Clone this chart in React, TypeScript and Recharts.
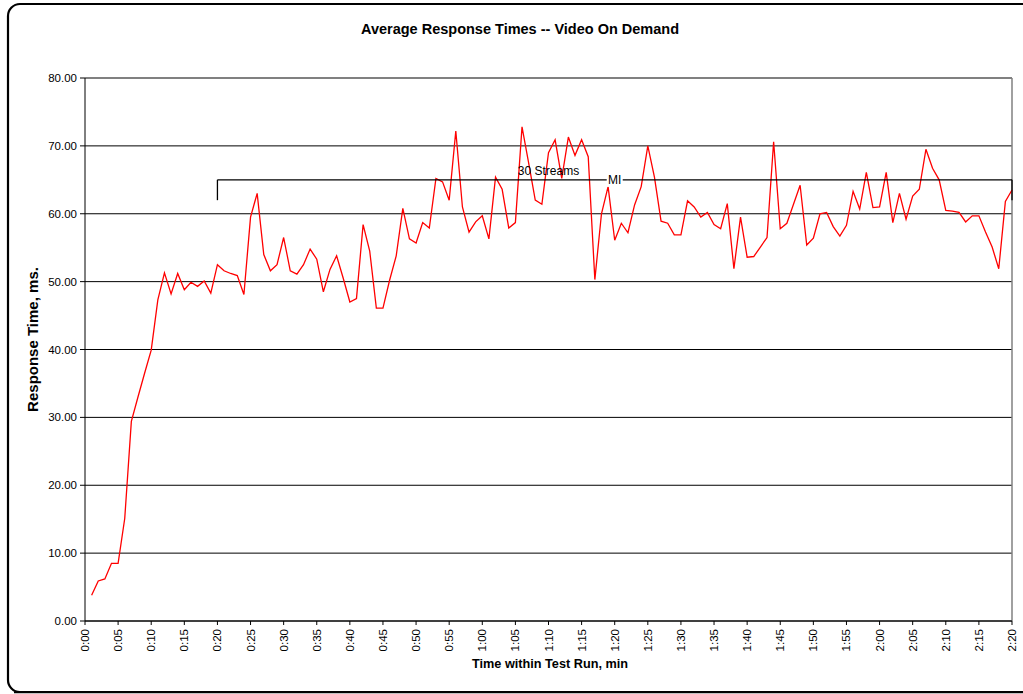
import { CartesianGrid, Line, LineChart, ReferenceDot, ReferenceLine, XAxis, YAxis } from 'recharts';

// response time per minute of the test run (minutes 1..140)
const responseTimes = [
  3.8, 5.9, 6.2, 8.5, 8.5, 15.1, 29.4, 33.0, 36.5, 39.9,
  47.3, 51.3, 48.2, 51.2, 48.8, 49.9, 49.3, 50.1, 48.3, 52.5,
  51.6, 51.2, 50.9, 48.1, 59.5, 63.0, 54.0, 51.6, 52.5, 56.5,
  51.6, 51.1, 52.5, 54.8, 53.3, 48.5, 51.8, 53.8, 50.5, 47.0,
  47.5, 58.4, 54.5, 46.1, 46.1, 50.2, 53.8, 60.8, 56.3, 55.7,
  58.7, 57.9, 65.2, 64.7, 62.0, 72.2, 61.0, 57.3, 58.8, 59.7,
  56.3, 65.4, 63.6, 57.9, 58.7, 72.8, 67.5, 62.0, 61.4, 69.0,
  70.9, 65.2, 71.3, 68.6, 70.9, 68.4, 50.3, 60.0, 64.0, 56.1,
  58.6, 57.2, 61.3, 64.0, 70.0, 65.4, 58.9, 58.6, 56.9, 56.9,
  61.9, 61.0, 59.5, 60.2, 58.4, 57.8, 61.5, 51.9, 59.5, 53.6,
  53.7, 55.1, 56.5, 70.6, 57.8, 58.6, 61.4, 64.2, 55.4, 56.4,
  60.0, 60.2, 58.1, 56.7, 58.3, 63.3, 60.7, 66.1, 60.9, 61.0,
  66.1, 58.7, 63.0, 59.2, 62.6, 63.6, 69.5, 66.7, 65.0, 60.5,
  60.4, 60.2, 58.8, 59.7, 59.7, 57.3, 55.1, 51.9, 61.8, 63.5,
];

const xTicks = [0, 5, 10, 15, 20, 25, 30, 35, 40, 45, 50, 55, 60, 65, 70, 75, 80, 85, 90, 95, 100, 105, 110, 115, 120, 125, 130, 135, 140];
const xTickLabels = [
  '0:00', '0:05', '0:10', '0:15', '0:20', '0:25', '0:30', '0:35', '0:40', '0:45',
  '0:50', '0:55', '1:00', '1:05', '1:10', '1:15', '1:20', '1:25', '1:30', '1:35',
  '1:40', '1:45', '1:50', '1:55', '2:00', '2:05', '2:10', '2:15', '2:20',
];
const yTicks = [0, 10, 20, 30, 40, 50, 60, 70, 80];

// "30 Streams" bracket annotation
const bracketStart = 20;
const bracketEnd = 140;
const bracketTop = 65;
const bracketFoot = 62;
const streamsLabelAt = 70;
const miLabelAt = 80;

const data = responseTimes.map((v, i) => ({ minute: i + 1, rt: v }));

const FONT = '"Liberation Sans", Arial, sans-serif';

const XTick = (props: any) => {
  const { x, y, index } = props;
  return (
    <text
      x={x}
      y={y}
      transform={`rotate(-90 ${x} ${y})`}
      textAnchor="end"
      dominantBaseline="central"
      fontSize={11.5}
      fontFamily={FONT}
      fill="#000"
    >
      {xTickLabels[index]}
    </text>
  );
};

const StreamsLabel = (props: any) => (
  <text x={props.cx} y={props.cy - 5} textAnchor="middle" fontSize={12} fontFamily={FONT} fill="#000">
    30 Streams
  </text>
);

const MiLabel = (props: any) => (
  <g>
    <rect x={props.cx - 8} y={props.cy - 7} width={16} height={14} fill="#fff" />
    <text x={props.cx} y={props.cy} textAnchor="middle" dominantBaseline="central" fontSize={12} fontFamily={FONT} fill="#000">
      MI
    </text>
  </g>
);

export default function App() {
  return (
    <div style={{ position: 'absolute', left: 0, top: 0, width: 1023, height: 694, overflow: 'hidden', background: '#fff', fontFamily: FONT }}>
      <div style={{ position: 'absolute', left: 0, width: 1040, top: 21, textAlign: 'center', fontSize: 14.5, fontWeight: 'bold' }}>
        Average Response Times -- Video On Demand
      </div>
      <div style={{ position: 'absolute', left: 0, width: 1100, top: 657, textAlign: 'center', fontSize: 12.7, fontWeight: 'bold' }}>
        Time within Test Run, min
      </div>
      <div style={{ position: 'absolute', left: 32, top: 340, width: 0, height: 0 }}>
        <div style={{ position: 'absolute', left: -100, top: -9, width: 200, textAlign: 'center', fontSize: 15, fontWeight: 'bold', transform: 'rotate(-90deg)', whiteSpace: 'nowrap' }}>
          Response Time, ms.
        </div>
      </div>
      <div style={{ position: 'absolute', left: 0, top: 0 }}>
        <LineChart width={1023} height={694} data={data} margin={{ top: 78, right: 11, left: 0, bottom: 0 }}>
          <CartesianGrid vertical={false} stroke="#000" strokeOpacity={1} />
          <XAxis
            dataKey="minute"
            type="number"
            domain={[0, 140]}
            ticks={xTicks}
            interval={0}
            height={73}
            tickSize={4}
            tickMargin={4}
            tick={<XTick />}
            axisLine={{ stroke: '#000' }}
            tickLine={{ stroke: '#000' }}
          />
          <YAxis
            type="number"
            domain={[0, 80]}
            ticks={yTicks}
            interval={0}
            width={85}
            tickSize={5}
            tickMargin={3}
            tickFormatter={(v: number) => v.toFixed(2)}
            tick={{ fill: '#000', fontSize: 11.5, fontFamily: FONT }}
            axisLine={{ stroke: '#000' }}
            tickLine={{ stroke: '#000' }}
          />
          <ReferenceLine y={80} stroke="#808080" strokeWidth={1.5} />
          <ReferenceLine x={140} stroke="#808080" strokeWidth={1.5} />
          <Line
            type="linear"
            dataKey="rt"
            stroke="#ff0000"
            strokeWidth={1.3}
            dot={false}
            isAnimationActive={false}
          />
          <ReferenceLine segment={[{ x: bracketStart, y: bracketTop }, { x: bracketEnd, y: bracketTop }]} stroke="#000" strokeWidth={1.3} />
          <ReferenceLine segment={[{ x: bracketStart, y: bracketTop }, { x: bracketStart, y: bracketFoot }]} stroke="#000" strokeWidth={1.3} />
          <ReferenceLine segment={[{ x: bracketEnd, y: bracketTop }, { x: bracketEnd, y: bracketFoot }]} stroke="#000" strokeWidth={1.3} />
          <ReferenceDot x={streamsLabelAt} y={bracketTop} r={1} ifOverflow="visible" shape={<StreamsLabel />} />
          <ReferenceDot x={miLabelAt} y={bracketTop} r={1} ifOverflow="visible" shape={<MiLabel />} />
        </LineChart>
      </div>
      <svg width={1023} height={694} style={{ position: 'absolute', left: 0, top: 0, pointerEvents: 'none' }}>
        <rect x={8} y={4} width={1040} height={688} rx={12} ry={12} fill="none" stroke="#000" strokeWidth={2.2} />
        <line x1={14} y1={692.5} x2={1023} y2={692.5} stroke="#000" strokeWidth={1.5} />
      </svg>
    </div>
  );
}
